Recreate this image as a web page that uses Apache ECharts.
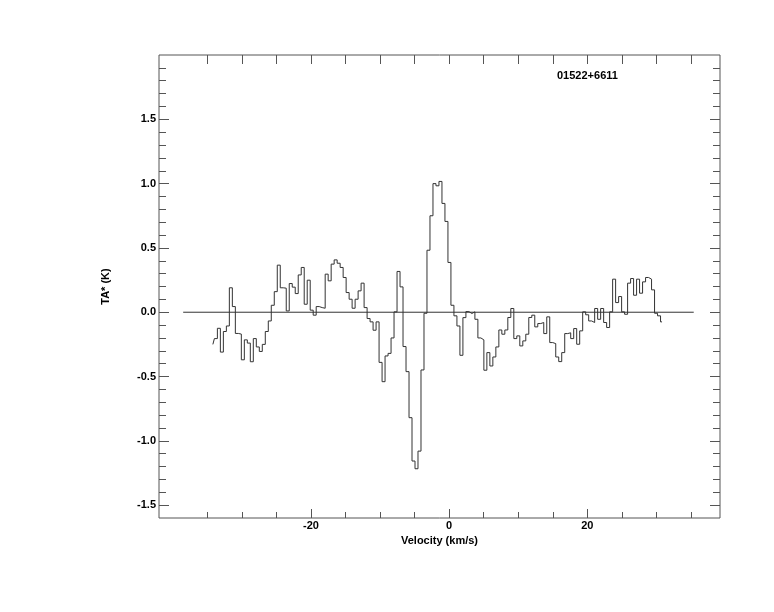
<!DOCTYPE html>
<html>
<head>
<meta charset="utf-8">
<script src="https://cdn.jsdelivr.net/npm/echarts@6/dist/echarts.min.js"></script>
<style>html,body{margin:0;padding:0;background:#fff;}#c{width:774px;height:612px;}</style>
</head>
<body>
<div id="c"></div>
<script>
// Spectral channel grid (km/s): first channel velocity and channel width
var chanStart = -34.2;
var chanWidth = 0.4334;
// Antenna temperature TA* (K) per channel
var ta = [
 -0.25,-0.205,-0.125,-0.31,-0.15,-0.107,0.19,0.044,-0.165,-0.17,
 -0.37,-0.215,-0.24,-0.385,-0.205,-0.27,-0.305,-0.25,-0.15,-0.068,
 0.054,0.16,0.366,0.19,0.187,0.01,0.223,0.195,0.145,0.29,
 0.348,0.062,0.249,0.016,-0.023,0.044,0.036,0.031,0.296,0.244,
 0.374,0.407,0.381,0.348,0.27,0.153,0.101,0.031,0.101,0.166,
 0.226,0.036,-0.049,-0.075,-0.14,-0.075,-0.39,-0.54,-0.34,-0.32,
 -0.2,0.003,0.317,0.197,-0.267,-0.462,-0.82,-1.157,-1.217,-1.08,
 -0.449,-0.008,0.482,0.75,1.0,0.983,1.017,0.846,0.706,0.387,
 0.054,-0.028,-0.107,-0.335,-0.042,0.005,-0.01,0.003,-0.055,-0.2,
 -0.215,-0.451,-0.314,-0.418,-0.348,-0.27,-0.138,-0.171,-0.138,-0.041,
 0.029,-0.205,-0.184,-0.262,-0.223,-0.171,-0.041,-0.023,-0.114,-0.088,
 -0.08,-0.166,-0.036,-0.236,-0.244,-0.348,-0.384,-0.314,-0.166,-0.16,
 -0.205,-0.127,-0.249,-0.145,0.003,-0.02,-0.068,-0.08,0.029,-0.055,
 0.029,-0.08,-0.119,0.003,0.257,0.075,0.122,0.003,-0.016,0.226,
 0.262,0.132,0.257,0.148,0.236,0.27,0.257,0.174,-0.008,-0.028,
 -0.075
];
// Zero baseline extent (km/s)
var baseline = [[-38.5, 0], [35.4, 0]];
// Axis ranges and ticks
var xRange = [-42.0, 39.2];
var yRange = [-1.6, 2.0];
var xMajor = [-20, 0, 20];
var xMinor = [-35, -30, -25, -15, -10, -5, 5, 10, 15, 25, 30, 35];
var yMajor = [-1.5, -1.0, -0.5, 0.0, 0.5, 1.0, 1.5];
var yMinor = [-1.4,-1.3,-1.2,-1.1,-0.9,-0.8,-0.7,-0.6,-0.4,-0.3,-0.2,-0.1,
              0.1,0.2,0.3,0.4,0.6,0.7,0.8,0.9,1.1,1.2,1.3,1.4,1.6,1.7,1.8,1.9];
var sourceName = '01522+6611';
var xName = 'Velocity (km/s)';
var yName = 'TA* (K)';

var spec = ta.map(function (t, i) { return [chanStart + i * chanWidth, t]; });

var FONT = 'Liberation Sans';
var AX = '#555';
var labelStyle = { fontFamily: FONT, fontWeight: 'bold', fontSize: 11, color: '#000' };

function xAx(pos, ticks, len, labels) {
  return {
    type: 'value', position: pos, min: xRange[0], max: xRange[1], gridIndex: 0,
    axisLine: { show: false, onZero: false },
    splitLine: { show: false },
    axisTick: { show: true, inside: true, length: len, customValues: ticks, lineStyle: { color: AX, width: 1 } },
    axisLabel: labels ? Object.assign({ show: true, margin: 2, customValues: ticks,
      formatter: function (v) { return String(Math.round(v)); } }, labelStyle) : { show: false }
  };
}
function yAx(pos, ticks, len, labels) {
  return {
    type: 'value', position: pos, min: yRange[0], max: yRange[1], gridIndex: 0,
    axisLine: { show: false, onZero: false },
    splitLine: { show: false },
    axisTick: { show: true, inside: true, length: len, customValues: ticks, lineStyle: { color: AX, width: 1 } },
    axisLabel: labels ? Object.assign({ show: true, margin: 3, customValues: ticks,
      formatter: function (v) { return v.toFixed(1); } }, labelStyle) : { show: false }
  };
}

var xa0 = xAx('bottom', xMajor, 9, true);
xa0.name = xName; xa0.nameLocation = 'middle'; xa0.nameGap = 12;
xa0.nameTextStyle = { fontFamily: FONT, fontWeight: 'bold', fontSize: 11, color: '#000' };
var ya0 = yAx('left', yMajor, 10, true);
ya0.name = yName; ya0.nameLocation = 'middle'; ya0.nameGap = 48;
ya0.nameTextStyle = { fontFamily: FONT, fontWeight: 'bold', fontSize: 11, color: '#000' };

var chart = echarts.init(document.getElementById('c'), null, { renderer: 'canvas' });
chart.setOption({
  animation: false,
  backgroundColor: '#fff',
  grid: { left: 159, right: 54, top: 55, bottom: 94, show: true, borderColor: AX, borderWidth: 1, backgroundColor: 'transparent' },
  xAxis: [
    xa0,
    xAx('bottom', xMinor, 6, false),
    xAx('top', xMajor, 9, false),
    xAx('top', xMinor, 9, false)
  ],
  yAxis: [
    ya0,
    yAx('left', yMinor, 7, false),
    yAx('right', yMajor, 10, false),
    yAx('right', yMinor, 7, false)
  ],
  graphic: [{
    type: 'text', left: 557, top: 70,
    style: { text: sourceName, fontFamily: FONT, fontWeight: 'bold', fontSize: 11, fill: '#000' }
  }],
  series: [
    {
      type: 'line', data: baseline, xAxisIndex: 0, yAxisIndex: 0,
      symbol: 'none', lineStyle: { color: '#333', width: 1 }, silent: true
    },
    {
      type: 'line', data: spec, xAxisIndex: 0, yAxisIndex: 0, step: 'middle',
      symbol: 'none', lineStyle: { color: '#333', width: 1 }, silent: true
    }
  ]
});
</script>
</body>
</html>
